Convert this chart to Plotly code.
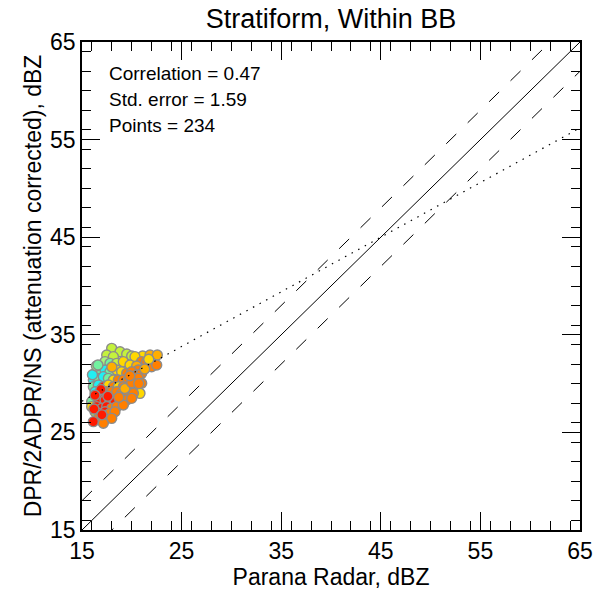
import plotly.graph_objects as go

# ---------------- data ----------------
title_text = "Stratiform, Within BB"
x_title = "Parana Radar, dBZ"
y_title = "DPR/2ADPR/NS (attenuation corrected), dBZ"
stats_lines = ["Correlation = 0.47", "Std. error = 1.59", "Points = 234"]

axis_range = [15, 65]
tick_vals = [15, 25, 35, 45, 55, 65]
dash_offset = 3.0          # +/- dBZ envelope around 1:1
fit_slope = 0.56
fit_intercept = 19.8

# scatter points (Parana radar dBZ, DPR dBZ, colour class)
radar_dbz = [
    17.98, 18.82, 19.49, 19.99, 17.48, 18.15, 21.09, 21.83, 22.56, 20.32,
    20.99, 21.49, 21.99, 22.50, 17.31, 17.81, 18.48, 19.15, 19.82, 20.49, 20.66,
    16.31, 16.81, 17.31, 17.81, 18.48, 18.98, 19.49, 19.99, 20.49, 20.99,
    16.14, 16.64, 17.14, 17.65, 18.15, 18.65, 19.15, 19.65, 20.16, 20.66, 20.99,
    16.14, 16.64, 17.14, 17.65, 18.15, 18.65, 19.15, 19.65, 20.32, 20.82,
    16.31, 16.81, 17.48, 17.98, 18.48, 18.98, 19.49, 20.16, 17.14,
    15.97, 16.64, 17.31, 17.81, 18.31, 18.82, 19.49, 19.99,
    15.97, 16.47, 16.98, 17.48, 17.98, 18.48, 19.15,
    16.31, 16.81, 17.31, 17.81, 18.31, 16.64, 17.31, 17.98, 16.14, 17.14,
    16.05, 16.45, 16.90, 17.60, 18.70, 19.30, 20.00, 21.30, 21.70, 16.30,
    16.20, 17.00, 19.80, 20.70, 18.00, 16.60,
]
dpr_dbz = [
    33.61, 33.27, 33.03, 32.83, 32.93, 32.76, 32.83, 32.93, 32.93, 32.76,
    32.25, 32.25, 31.73, 31.90, 32.25, 32.07, 32.07, 32.25, 31.90, 31.80, 31.39,
    31.05, 31.39, 31.39, 31.22, 31.39, 31.22, 31.05, 31.22, 30.88, 31.05,
    30.37, 30.54, 30.71, 30.54, 30.37, 30.37, 30.37, 30.37, 30.37, 30.54, 30.03,
    29.68, 29.85, 29.68, 29.85, 29.68, 29.68, 29.68, 29.68, 29.51, 29.00,
    29.17, 29.00, 29.17, 29.17, 29.17, 29.00, 29.17, 29.00, 28.66,
    28.15, 28.32, 28.32, 28.15, 28.15, 28.32, 28.32, 28.49,
    27.64, 27.64, 27.46, 27.64, 27.46, 27.64, 27.81,
    27.12, 26.95, 27.12, 26.95, 27.12, 26.44, 26.44, 26.44, 26.10, 25.93,
    30.90, 31.80, 29.40, 28.70, 28.60, 29.50, 30.10, 31.50, 32.50, 28.80,
    27.40, 26.80, 30.80, 30.00, 31.70, 31.90,
]
color_class = [
    "YG", "YG", "YG", "YG", "YG", "YG", "Y", "OY", "OY", "Y",
    "O", "O", "O", "O", "LG", "G", "YG", "Y", "Y", "OY", "O",
    "G", "G", "C", "G", "Y", "Y", "O", "O", "O", "O",
    "C", "G", "C", "G", "Y", "O", "O", "O", "O", "O", "O",
    "G", "C", "R", "Y", "O", "Y", "O", "O", "O", "Y",
    "C", "C", "O", "O", "O", "O", "O", "O", "R",
    "G", "R", "R", "O", "R", "O", "O", "O",
    "Y", "R", "R", "R", "O", "O", "O",
    "YG", "R", "R", "O", "O", "O", "R", "O", "R", "O",
    "C", "LG", "R", "R", "O", "OY", "O", "OY", "Y", "R",
    "R", "R", "O", "O", "OY", "G",
]

# ---------------- styles ----------------
class_colors = {
    "R": "#ff1a00", "O": "#ff7f00", "OY": "#ffae00", "Y": "#ffd800",
    "YG": "#c4f23c", "LG": "#a6f47a", "G": "#72f2a0", "C": "#22eef2",
}
FONT = "Liberation Sans, Arial, Helvetica, sans-serif"

fig = go.Figure()

fig.add_trace(go.Scatter(
    x=radar_dbz, y=dpr_dbz, mode="markers",
    marker=dict(size=10, color=[class_colors[c] for c in color_class],
                line=dict(color="#8c8c8c", width=1.4)),
    hoverinfo="skip", showlegend=False,
))

xl = axis_range
fig.add_trace(go.Scatter(x=xl, y=[v for v in xl], mode="lines",
                         line=dict(color="black", width=1), showlegend=False))
fig.add_trace(go.Scatter(x=xl, y=[v + dash_offset for v in xl], mode="lines",
                         line=dict(color="black", width=1, dash="14px,16px"),
                         showlegend=False))
fig.add_trace(go.Scatter(x=xl, y=[v - dash_offset for v in xl], mode="lines",
                         line=dict(color="black", width=1, dash="14px,16px"),
                         showlegend=False))
fig.add_trace(go.Scatter(x=xl, y=[fit_intercept + fit_slope * v for v in xl],
                         mode="lines",
                         line=dict(color="black", width=1.2, dash="1.5px,6px"),
                         showlegend=False))

axis_common = dict(
    range=axis_range, tickvals=tick_vals, ticks="inside", ticklen=18,
    tickwidth=1, tickcolor="black", showline=True, linecolor="black",
    linewidth=1.5, mirror="ticks", showgrid=False, zeroline=False,
    automargin=False,
    tickfont=dict(family=FONT, size=23, color="black"),
    minor=dict(dtick=2, ticks="inside", ticklen=9, tickwidth=1,
               tickcolor="black", showgrid=False),
)

fig.update_layout(
    width=595, height=597,
    margin=dict(l=82, r=15, t=42, b=67),
    paper_bgcolor="white", plot_bgcolor="white",
    title=dict(text=title_text, x=0.5, xref="paper", y=1 - 19 / 597,
               yanchor="middle",
               font=dict(family=FONT, size=27, color="black")),
    xaxis=dict(**axis_common,
               title=dict(text=x_title, standoff=2,
                          font=dict(family=FONT, size=23, color="black"))),
    yaxis=dict(**axis_common,
               title=dict(text=y_title, standoff=2,
                          font=dict(family=FONT, size=23, color="black"))),
)

for i, line in enumerate(stats_lines):
    fig.add_annotation(
        text=line, xref="paper", yref="paper",
        x=(107 - 82) / 498, y=1 - (73 + 26 * i - 42) / 488,
        xanchor="left", yanchor="middle", showarrow=False,
        font=dict(family=FONT, size=19, color="black"),
    )

fig.write_html("out.html")
